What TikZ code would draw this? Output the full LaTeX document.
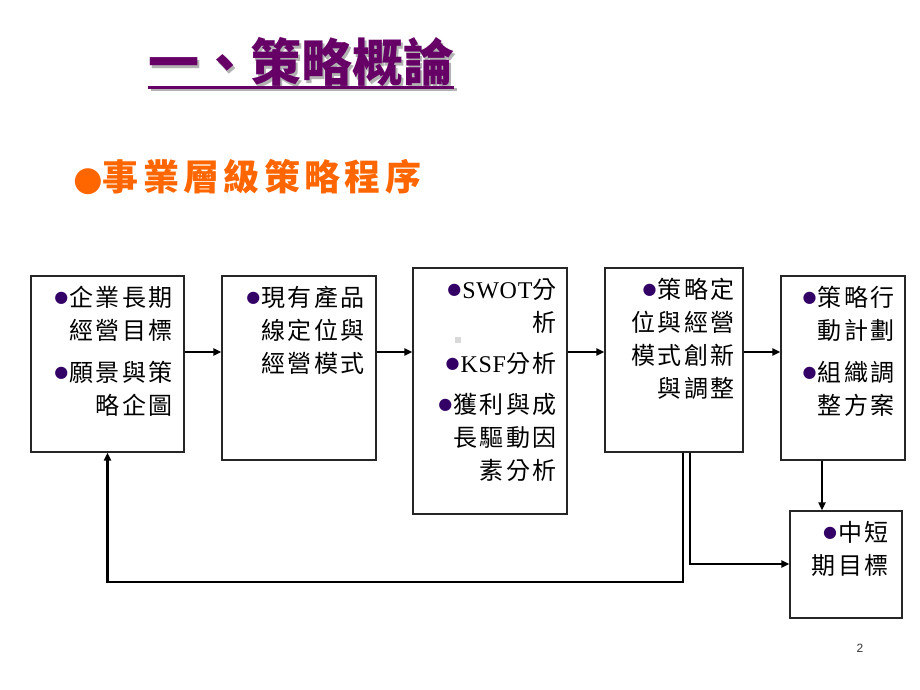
\documentclass[tikz,border=0pt]{standalone}
\usepackage{fontspec}
\setmainfont{Liberation Serif}
\setsansfont{Liberation Sans}
\newfontfamily\cjk{Noto Sans CJK TC}
\newfontfamily\boxcjk[LetterSpace=10]{Noto Sans CJK TC}
\newfontfamily\subcjk[LetterSpace=12]{Noto Sans CJK TC}
\newfontfamily\boxlat[LetterSpace=3]{Liberation Serif}
\newfontfamily\symb{DejaVu Sans}
\usetikzlibrary{arrows.meta, calc, positioning}
\tikzset{>=Triangle}
\definecolor{titlepurple}{RGB}{102,0,102}
\definecolor{suborange}{RGB}{255,102,0}
\definecolor{dotpurple}{RGB}{51,0,102}
\newcommand{\dotb}{\raisebox{4pt}{\color{dotpurple}\symb\fontsize{16}{16}\selectfont ●}\kern1pt}

\begin{document}
\begin{tikzpicture}[x=1pt, y=-1pt,
    box/.style={draw=black!85, line width=1.3pt, minimum width=#1, inner sep=0pt},
    txt/.style={anchor=north east, align=right, inner sep=0pt, font=\boxcjk\fontsize{24}{33}\selectfont},
    arr/.style={->, >={Triangle[length=8pt, width=7pt]}, line width=2.8pt},
    title/.style={anchor=base west, inner sep=0pt, font=\cjk\bfseries\fontsize{51}{51}\selectfont}]
  \useasboundingbox (0,0) rectangle (920,690);
  % title with shadow
  \node[title, text=black!30] (tshadow) at (150.5,84.5) {一、策略概論};
  \draw[black!30, line width=3pt] (tshadow.south west) -- (tshadow.south east);
  \node[title, text=titlepurple] (title) at (148,82) {一、策略概論};
  \draw[titlepurple, line width=3pt] (title.south west) -- (title.south east);
  \node[anchor=base west, inner sep=0pt, text=suborange] (sub) at (73,190)
    {{\symb\fontsize{34}{34}\selectfont ●}{\subcjk\bfseries\fontsize{36}{36}\selectfont 事業層級策略程序}};
  % boxes
  \node[box=153pt, minimum height=176pt] (b1) at (107.5,364) {};
  \node[box=154pt, minimum height=184pt] (b2) at (299,368) {};
  \node[box=154pt, minimum height=246pt] (b3) at (490,391) {};
  \node[box=138pt, minimum height=184pt] (b4) at (674,360) {};
  \node[box=124pt, minimum height=184pt] (b5) at (843,368) {};
  \node[box=112pt, minimum height=107pt] (b6) at (846,564.5) {};
  \node[txt] (t1) at ($(b1.north east)+(-12,11)$) {\dotb 企業長期\\ 經營目標\\[9pt] \dotb 願景與策\\ 略企圖};
  \node[txt] (t2) at ($(b2.north east)+(-12,11)$) {\dotb 現有產品\\ 線定位與\\ 經營模式};
  \node[txt] (t3) at ($(b3.north east)+(-11,11)$) {\dotb{\boxlat SWOT}分\\ 析\\[8pt] \dotb{\boxlat KSF}分析\\[8pt] \dotb 獲利與成\\ 長驅動因\\ 素分析};
  \node[txt] (t4) at ($(b4.north east)+(-9,11)$) {\dotb 策略定\\ 位與經營\\ 模式創新\\ 與調整};
  \node[txt] (t5) at ($(b5.north east)+(-11,11)$) {\dotb 策略行\\ 動計劃\\[9pt] \dotb 組織調\\ 整方案};
  \node[txt] (t6) at ($(b6.north east)+(-14,11)$) {\dotb 中短\\ 期目標};
  \fill[black!15] (455,337) rectangle (461,343);
  % connectors
  \coordinate (ay) at (0,352);
  \draw[arr] (b1.east |- ay) -- (b2.west |- ay);
  \draw[arr] (b2.east |- ay) -- (b3.west |- ay);
  \draw[arr] (b3.east |- ay) -- (b4.west |- ay);
  \draw[arr] (b4.east |- ay) -- (b5.west |- ay);
  \coordinate (dn) at (822,0);
  \draw[arr] (b5.south -| dn) -- (b6.north -| dn);
  \coordinate (fb) at (683,582);
  \draw[arr] (b4.south -| fb) |- (b1.south |- fb) -- (b1.south);
  \coordinate (sg) at (690,564);
  \draw[arr] (b4.south -| sg) |- (b6.west |- sg);
  \node[font=\sffamily\fontsize{12}{12}\selectfont, text=black!80] (pg) at (860,648) {2};
\end{tikzpicture}
\end{document}
